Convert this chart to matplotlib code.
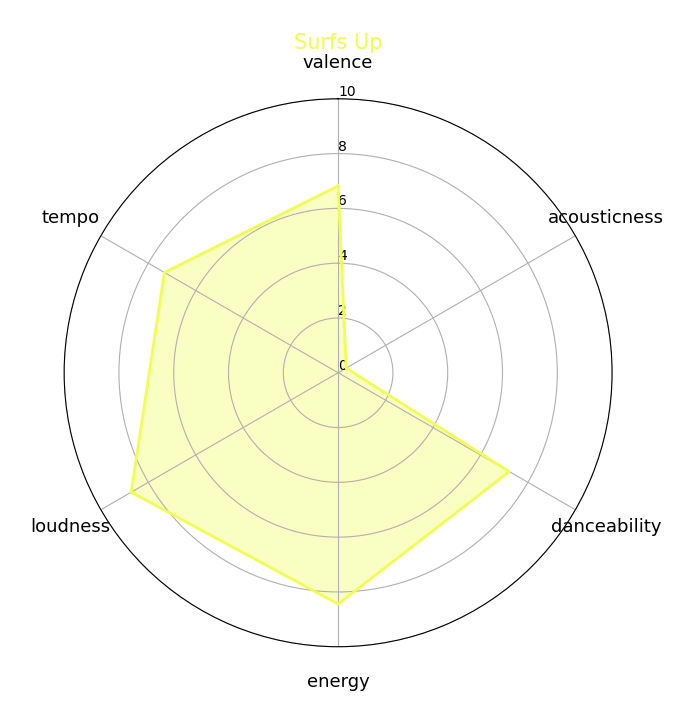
import numpy as np
import matplotlib.pyplot as plt

categories = ["valence", "acousticness", "danceability", "energy", "loudness", "tempo"]
values = [6.82, 0.34, 7.21, 8.44, 8.72, 7.32]
r_ticks = [0, 2, 4, 6, 8, 10]
title = "Surfs Up"
color = "#f0ff50"

angles = np.linspace(0, 2 * np.pi, len(categories), endpoint=False).tolist()
vals = values + values[:1]
angs = angles + angles[:1]

fig = plt.figure(figsize=(6.93, 7.21), dpi=100)
ax = fig.add_axes([0.0924, 0.1030, 0.791, 0.760], polar=True)
ax.set_theta_offset(np.pi / 2)
ax.set_theta_direction(-1)

ax.plot(angs, vals, color=color, linewidth=2)
ax.fill(angs, vals, color=color, alpha=0.35)

ax.set_xticks(angles)
ax.set_xticklabels(categories, fontsize=13)
ax.tick_params(axis="x", pad=15)
ax.set_ylim(0, 10)
ax.set_yticks(r_ticks)
ax.set_yticklabels([str(t) for t in r_ticks], fontsize=10)
ax.set_rlabel_position(0)
ax.set_title(title, color=color, fontsize=15, pad=36)

plt.savefig("out.png", dpi=100)
